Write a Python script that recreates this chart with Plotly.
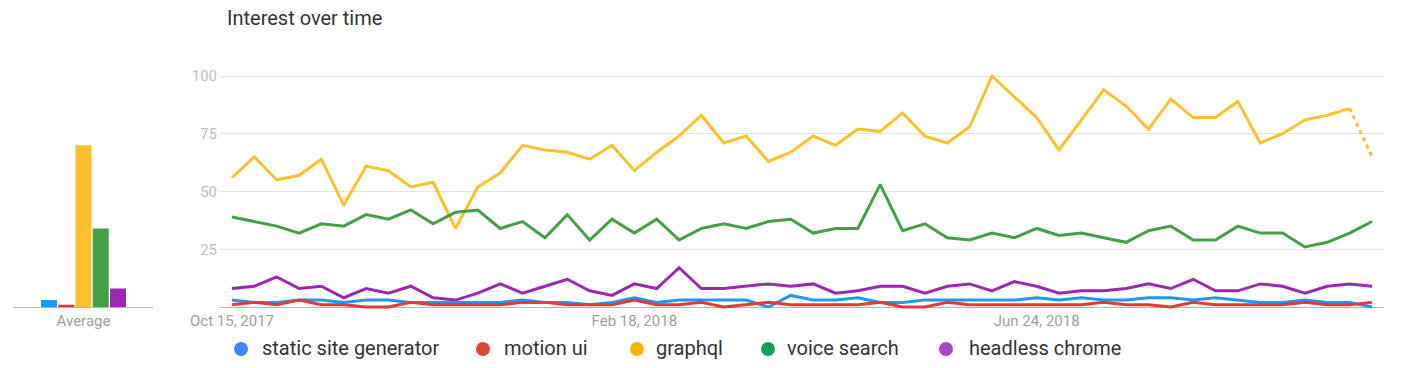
import pandas as pd
import plotly.graph_objects as go

# ---------------- data ----------------
series_names = ["static site generator", "motion ui", "graphql", "voice search", "headless chrome"]
start_week = "2017-10-15"
n_weeks = 52

static_site_generator = [3, 2, 2, 3, 3, 2, 3, 3, 2, 2, 2, 2, 2, 3, 2, 2, 1,
                         2, 4, 2, 3, 3, 3, 3, 0, 5, 3, 3, 4, 2, 2, 3, 3, 3, 3,
                         3, 4, 3, 4, 3, 3, 4, 4, 3, 4, 3, 2, 2, 3, 2, 2, 0]
motion_ui = [1, 2, 1, 3, 1, 1, 0, 0, 2, 1, 1, 1, 1, 2, 2, 1, 1,
             1, 3, 1, 1, 2, 0, 1, 2, 1, 1, 1, 1, 2, 0, 0, 2, 1, 1,
             1, 1, 1, 1, 2, 1, 1, 0, 2, 1, 1, 1, 1, 2, 1, 1, 2]
graphql = [56, 65, 55, 57, 64, 44, 61, 59, 52, 54, 34, 52, 58, 70, 68, 67, 64,
           70, 59, 67, 74, 83, 71, 74, 63, 67, 74, 70, 77, 76, 84, 74, 71, 78, 100,
           91, 82, 68, 81, 94, 87, 77, 90, 82, 82, 89, 71, 75, 81, 83, 86, 65]
voice_search = [39, 37, 35, 32, 36, 35, 40, 38, 42, 36, 41, 42, 34, 37, 30, 40, 29,
                38, 32, 38, 29, 34, 36, 34, 37, 38, 32, 34, 34, 53, 33, 36, 30, 29, 32,
                30, 34, 31, 32, 30, 28, 33, 35, 29, 29, 35, 32, 32, 26, 28, 32, 37]
headless_chrome = [8, 9, 13, 8, 9, 4, 8, 6, 9, 4, 3, 6, 10, 6, 9, 12, 7,
                   5, 10, 8, 17, 8, 8, 9, 10, 9, 10, 6, 7, 9, 9, 6, 9, 10, 7,
                   11, 9, 6, 7, 7, 8, 10, 8, 12, 7, 7, 10, 9, 6, 9, 10, 9]
averages = [3, 1, 70, 34, 8]
avg_category = ["Average"]

y_tick_values = [25, 50, 75, 100]
x_tick_dates = ["2017-10-15", "2018-02-18", "2018-06-24"]
x_tick_labels = ["Oct 15, 2017", "Feb 18, 2018", "Jun 24, 2018"]
title_text = "Interest over time"

# ---------------- styles ----------------
line_colors = ["#2196f3", "#e53935", "#fbc02d", "#43a047", "#9c27b0"]
dot_colors = ["#4285f4", "#db4437", "#f4b400", "#0f9d58", "#ab47bc"]
W, H = 1408, 368
FONT = "Roboto, Arial, sans-serif"


def xp(px):
    return px / W


def yp(py):
    return 1 - py / H


# geometry: value 0 at y=307px, 100 at y=76px -> 2.31 px / unit
Y0_PX, Y100_PX = 307.0, 76.0
ppu = (Y0_PX - Y100_PX) / 100.0
Y_LO, Y_HI = -3.0, 103.0
y_dom = [yp(Y0_PX - Y_LO * ppu), yp(Y0_PX - Y_HI * ppu)]

dates = pd.date_range(start_week, periods=n_weeks, freq="7D")
all_series = [static_site_generator, motion_ui, graphql, voice_search, headless_chrome]

fig = go.Figure()

# average bars (left mini chart)
for name, val, col in zip(series_names, averages, line_colors):
    fig.add_trace(go.Bar(x=avg_category, y=[val], name=name, marker_color=col,
                         marker_line_width=0, showlegend=False,
                         xaxis="x2", yaxis="y2", hoverinfo="skip"))

order = [2, 3, 4, 0, 1]
for i in order:
    vals = all_series[i]
    if series_names[i] == "graphql":
        fig.add_trace(go.Scatter(x=dates[:-1], y=vals[:-1], mode="lines", name=series_names[i],
                                 line=dict(color=line_colors[i], width=3), showlegend=False))
        fig.add_trace(go.Scatter(x=dates[-2:], y=vals[-2:], mode="lines", name=series_names[i],
                                 line=dict(color=line_colors[i], width=3, dash="4px,4px"),
                                 showlegend=False))
    else:
        fig.add_trace(go.Scatter(x=dates, y=vals, mode="lines", name=series_names[i],
                                 line=dict(color=line_colors[i], width=3), showlegend=False))

pad = pd.Timedelta(days=3.76)

fig.update_layout(
    template="none",
    width=W, height=H,
    margin=dict(l=0, r=0, t=0, b=0, pad=0, autoexpand=False),
    paper_bgcolor="white", plot_bgcolor="white",
    font=dict(family=FONT),
    showlegend=False,
    barmode="group", bargap=0.38, bargroupgap=0.07,
    xaxis=dict(domain=[xp(220), xp(1384)], type="date",
               range=[dates[0] - pad, dates[-1] + pad],
               tickvals=pd.to_datetime(x_tick_dates), ticktext=x_tick_labels,
               showgrid=False, zeroline=False, showline=False, ticks="",
               ticklabelstandoff=-4,
               tickfont=dict(size=15, color="#9e9e9e", family=FONT),
               anchor="y", fixedrange=True, automargin=False),
    yaxis=dict(domain=y_dom, range=[Y_LO, Y_HI], tickvals=y_tick_values,
               showgrid=True, gridcolor="#e3e3e3", gridwidth=1,
               zeroline=True, zerolinecolor="#b5b5b5", zerolinewidth=1,
               showline=False, ticks="", ticklabelstandoff=2,
               tickfont=dict(size=15, color="#bdbdbd", family=FONT),
               anchor="x", fixedrange=True, automargin=False),
    xaxis2=dict(domain=[xp(14), xp(153)], type="category", range=[-0.5, 0.5],
                showgrid=False, zeroline=False, showline=False, ticks="",
                ticklabelstandoff=-4,
                tickfont=dict(size=15, color="#9e9e9e", family=FONT),
                anchor="y2", fixedrange=True, automargin=False),
    yaxis2=dict(domain=y_dom, range=[Y_LO, Y_HI], showticklabels=False,
                showgrid=False, zeroline=True, zerolinecolor="#b5b5b5", zerolinewidth=1,
                showline=False, ticks="", anchor="x2", fixedrange=True, automargin=False),
)

annotations = [dict(text=title_text, x=xp(225), y=yp(18), xref="paper", yref="paper",
                    xanchor="left", yanchor="middle", showarrow=False,
                    font=dict(size=20, color="#333333", family=FONT))]
shapes = []
dot_x = [241, 483, 637, 768, 946]
text_x = [260, 502, 654, 785, 967]
LEG_Y = 349
r = 7
for name, col, dx, tx in zip(series_names, dot_colors, dot_x, text_x):
    shapes.append(dict(type="circle", xref="paper", yref="paper",
                       x0=xp(dx - r), x1=xp(dx + r), y0=yp(LEG_Y + r), y1=yp(LEG_Y - r),
                       fillcolor=col, line=dict(width=0)))
    annotations.append(dict(text=name, x=xp(tx), y=yp(LEG_Y - 1), xref="paper", yref="paper",
                            xanchor="left", yanchor="middle", showarrow=False,
                            font=dict(size=20, color="#333333", family=FONT)))

fig.update_layout(annotations=annotations, shapes=shapes)
fig.write_html("out.html", config={"displayModeBar": False},
               post_script="document.body.style.margin='0';document.body.style.overflow='hidden';")
